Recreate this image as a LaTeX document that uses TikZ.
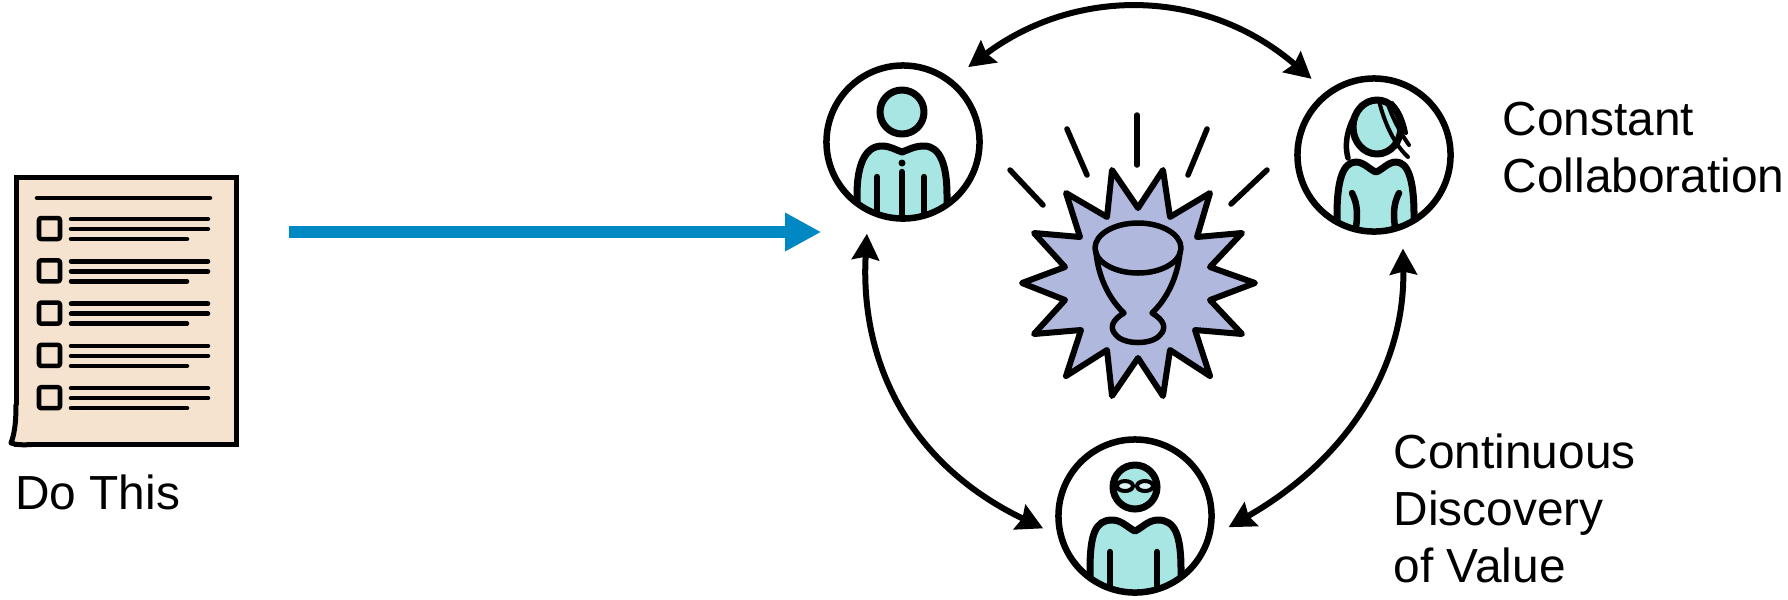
\documentclass[tikz,border=0pt]{standalone}
\usepackage{fontspec}
\setmainfont{Liberation Sans}
\usetikzlibrary{arrows.meta}
\definecolor{paperfill}{HTML}{F5E3CF}
\definecolor{tealfill}{HTML}{A8E6E3}
\definecolor{starfill}{HTML}{B1B8DD}
\definecolor{flowblue}{HTML}{0088C4}
\tikzset{>=latex}
\tikzstyle{paper}=[rectangle,draw=black,fill=paperfill,line width=0.05cm,minimum width=2.19cm,minimum height=2.66cm,inner sep=0pt]
\tikzstyle{persona}=[circle,draw=black,line width=0.065cm,minimum size=1.53cm,inner sep=0pt]
\tikzstyle{figure}=[draw=black,fill=tealfill,line width=0.07cm,line join=round]
\tikzstyle{ink}=[draw=black,line width=0.055cm,line cap=round,line join=round]
\tikzstyle{limb}=[draw=black,line width=0.065cm,line cap=round]
\tikzstyle{listline}=[draw=black,line width=0.045cm,line cap=round]
\tikzstyle{cycleline}=[draw=black,line width=0.06cm,{Stealth[length=0.26cm,width=0.27cm,inset=0.03cm]}-{Stealth[length=0.26cm,width=0.27cm,inset=0.03cm]}]
\tikzstyle{flowline}=[draw=flowblue,line width=0.12cm,-{Triangle[length=0.36cm,width=0.36cm]}]
\tikzstyle{caption}=[font=\fontsize{13.6}{16.2}\selectfont,align=left,inner sep=0pt,anchor=base west]

\begin{document}
\begin{tikzpicture}[x=0.01cm,y=-0.01cm]
\def \rowgap {42.3};
\useasboundingbox (0,0) rectangle (1788,599);

% checklist
\node[paper] (doc) at (126.5,311) {};
\fill[paperfill] (13.5,405) rectangle (32,442);
\fill[paperfill] (16,405) .. controls (16,425) and (14,435) .. (11,443) .. controls (16,445) and (24,445) .. (32,444.5) -- cycle;
\draw[ink,line width=0.05cm] (16,405) .. controls (16,425) and (14,435) .. (11,443) .. controls (16,445) and (24,445) .. (32,444.5);
\draw[listline] (37,198) -- (210,198);
\foreach \i in {0,...,4} {
	\draw[ink,line width=0.045cm,rounded corners=0.02cm] (39,218+\i*\rowgap) rectangle (60,239+\i*\rowgap);
	\draw[listline] (71,219+\i*\rowgap) -- (208,219+\i*\rowgap);
	\draw[listline] (71,229+\i*\rowgap) -- (208,229+\i*\rowgap);
	\draw[listline] (71,239+\i*\rowgap) -- (187,239+\i*\rowgap);
};
\node[caption] (dolabel) at (14.5,509) {Do This};

% left person
\begin{scope}
\clip (903,142) circle (77);
\draw[figure] (857,240) -- (857,195) .. controls (857,165) and (865,146) .. (882,146) .. controls (890,146) and (896,150) .. (902,152) .. controls (908,150) and (914,146) .. (924,146) .. controls (940,146) and (947,165) .. (947,195) -- (947,240) -- cycle;
\draw[limb] (877,177) -- (877,230);
\draw[limb] (902,172) -- (902,230);
\draw[limb] (924,177) -- (924,230);
\end{scope}
\fill[black] (902,163) circle (3.5);
\draw[figure] (902,112) circle (22);
\node[persona] (pA) at (903,142) {};

% right person
\begin{scope}
\clip (1374,155) circle (77);
\draw[figure] (1337,250) -- (1337,215) .. controls (1337,180) and (1343,162) .. (1356,162) .. controls (1364,162) and (1370,170) .. (1376,172) .. controls (1382,170) and (1388,162) .. (1396,162) .. controls (1408,162) and (1414,180) .. (1414,215) -- (1414,250) -- cycle;
\draw[limb] (1352,193) .. controls (1358,205) and (1358,215) .. (1355,235);
\draw[limb] (1399,193) .. controls (1393,205) and (1393,215) .. (1396,235);
\end{scope}
\draw[figure] (1377,127) ellipse (24 and 27);
\draw[ink] (1362,105) .. controls (1350,120) and (1343,140) .. (1348,158);
\draw[ink,line width=0.04cm] (1379,101) .. controls (1385,125) and (1395,145) .. (1408,157);
\draw[ink,line width=0.04cm] (1387,102) .. controls (1394,122) and (1402,135) .. (1409,145);
\draw[ink,line width=0.04cm] (1392,103) .. controls (1400,112) and (1404,122) .. (1406,133);
\node[persona] (pB) at (1374,155) {};

% bottom person
\begin{scope}
\clip (1135,516) circle (77);
\draw[figure] (1090,610) -- (1090,570) .. controls (1090,535) and (1095,520) .. (1112,520) .. controls (1122,520) and (1128,528) .. (1135,531) .. controls (1142,528) and (1148,520) .. (1158,520) .. controls (1175,520) and (1181,535) .. (1181,570) -- (1181,610) -- cycle;
\draw[limb] (1110,552) -- (1110,600);
\draw[limb] (1157,552) -- (1157,600);
\end{scope}
\draw[figure] (1135,487) circle (22);
\draw[black,line width=0.04cm,fill=tealfill!40!white] (1125,486) ellipse (8 and 5);
\draw[black,line width=0.04cm,fill=tealfill!40!white] (1145,486) ellipse (8 and 5);
\draw[black,line width=0.035cm] (1113,484) -- (1117,486) (1153,486) -- (1157,484);
\node[persona] (pC) at (1135,516) {};

% burst and cup
\draw[ink,line width=0.06cm,fill=starfill] (1138,208) -- (1163,170) -- (1170,217) -- (1210,193) -- (1197,237) -- (1242,233) -- (1210,267) -- (1255,283) -- (1210,300) -- (1242,334) -- (1195,330) -- (1210,376) -- (1170,350) -- (1163,396) -- (1138,358) -- (1112,396) -- (1107,350) -- (1066,376) -- (1081,330) -- (1034,334) -- (1065,300) -- (1022,283) -- (1065,267) -- (1034,233) -- (1080,237) -- (1066,193) -- (1107,217) -- (1112,170) -- cycle;
\draw[ink] (1138,248) ellipse (43 and 25);
\draw[ink] (1096,252) .. controls (1098,275) and (1108,298) .. (1124,313) .. controls (1112,320) and (1109,328) .. (1116,335) .. controls (1124,345) and (1152,345) .. (1160,335) .. controls (1167,328) and (1164,320) .. (1152,313) .. controls (1168,298) and (1178,275) .. (1180,252);
\foreach \xa/\ya/\xb/\yb in {1010/170/1043/205,1067/129/1087/175,1137/115/1137/165,1207/129/1188/175,1267/170/1231/204} {
	\draw[ink] (\xa,\ya) -- (\xb,\yb);
};

% connectors
\draw[cycleline,shorten <=0.2cm,shorten >=0.19cm] (pA.52) .. controls (1075,-13) and (1205,-13) .. (pB.127);
\draw[cycleline,shorten <=0.2cm,shorten >=0.16cm] (pA.244) .. controls (860,357) and (905,462) .. (pC.194);
\draw[cycleline,shorten <=0.19cm,shorten >=0.19cm] (pB.291) .. controls (1405,364) and (1351,457) .. (pC.345);

\coordinate (flowstart) at (289,232);
\draw[flowline,shorten >=0.02cm] (flowstart) -- (flowstart -| pA.west);

\node[caption] (collablabel) at (1502,192) {Constant\\Collaboration};
\node[caption] (valuelabel) at (1393,582) {Continuous\\Discovery\\of Value};
\end{tikzpicture}
\end{document}
